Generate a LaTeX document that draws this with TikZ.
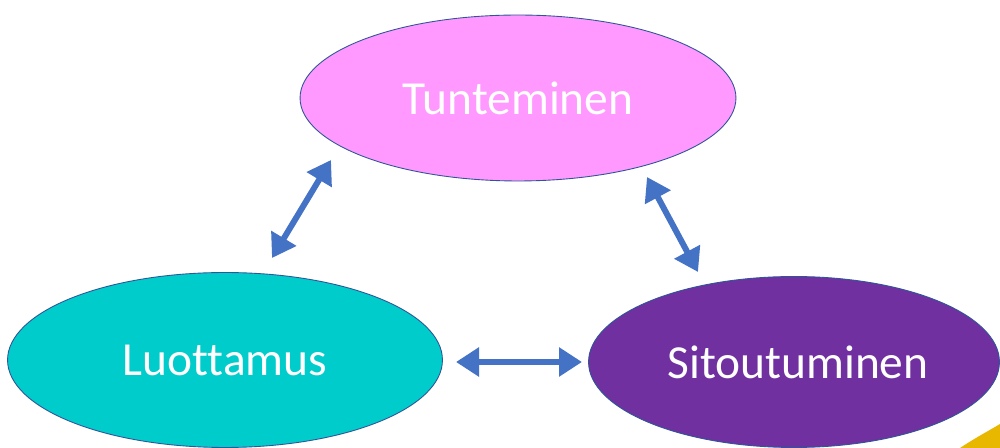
\documentclass[tikz,border=0pt]{standalone}
\usepackage{fontspec}
\setmainfont[Ligatures=NoCommon]{Carlito}
\usetikzlibrary{shapes.geometric,arrows.meta}
\definecolor{pinkfill}{RGB}{255,153,255}
\definecolor{tealfill}{RGB}{0,204,204}
\definecolor{purplefill}{RGB}{112,48,160}
\definecolor{arrowblue}{RGB}{68,114,196}
\definecolor{edgeblue}{RGB}{47,85,151}
\definecolor{cornergold}{RGB}{232,184,0}
\tikzset{
  bubble/.style={ellipse, draw=edgeblue, line width=0.5pt, text=white,
    font=\fontsize{27}{30}\selectfont},
  link/.style={arrowblue, line width=3.4pt,
    {Triangle[width=0.56cm,length=0.46cm]}-{Triangle[width=0.56cm,length=0.46cm]}}
}
\begin{document}
\begin{tikzpicture}[x=0.02cm, y=-0.02cm]
    \clip (0,0) rectangle (1000,448);
    \fill[white] (0,0) rectangle (1000,448);
    \fill[cornergold] (960,448) .. controls (975,438) and (990,430) .. (1000,424) -- (1000,448) -- cycle;
    \node[bubble, fill=pinkfill, minimum width=8.72cm, minimum height=3.32cm] (tunt) at (518,98) {Tunteminen};
    \node[bubble, fill=tealfill, minimum width=8.7cm, minimum height=3.5cm] (luot) at (225,360) {Luottamus};
    \node[bubble, fill=purplefill, minimum width=8.22cm, minimum height=3.42cm] (sito) at (794,362) {\hspace{0.16cm}Sitoutuminen};
    \coordinate (lt) at (272,258);
    \coordinate (tl) at (331,160);
    \coordinate (tr) at (647,177);
    \coordinate (rt) at (698,272);
    \coordinate (lr) at (456,362);
    \coordinate (rl) at (582,362);
    \draw[link] (lt) -- (tl);
    \draw[link] (tr) -- (rt);
    \draw[link] (lr) -- (rl);
  \end{tikzpicture}
\end{document}
